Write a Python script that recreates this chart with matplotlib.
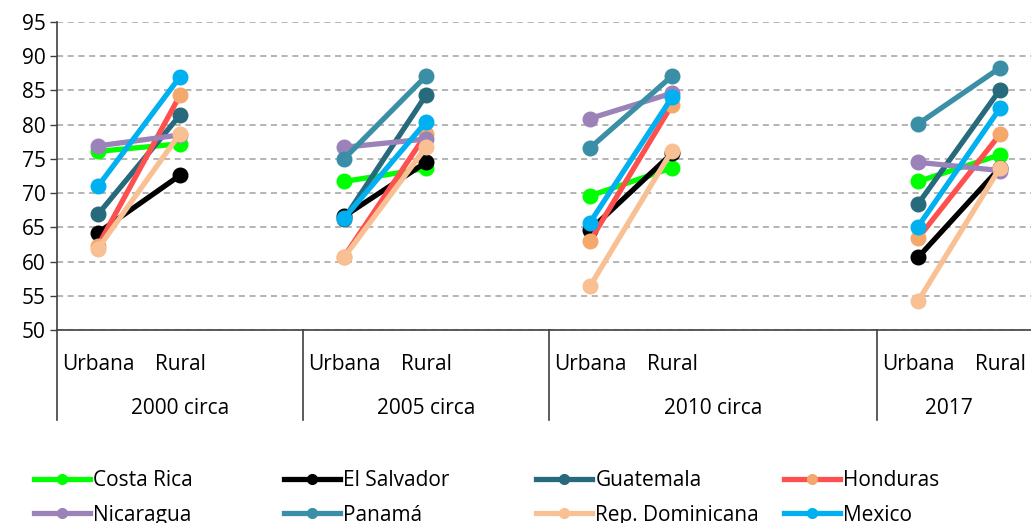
import numpy as np
import matplotlib
matplotlib.use("Agg")
import matplotlib.pyplot as plt
import matplotlib.transforms as mtransforms
from matplotlib.lines import Line2D

plt.rcParams['font.family'] = ['Open Sans', 'DejaVu Sans']

periods = ['2000 circa', '2005 circa', '2010 circa', '2017']
areas = ['Urbana', 'Rural']
# slot where each period starts on the category axis (empty slots between)
period_start = [0, 3, 6, 10]
n_slots = 12

countries = ['Costa Rica', 'El Salvador', 'Guatemala', 'Honduras',
             'Nicaragua', 'Panamá', 'Rep. Dominicana', 'Mexico']

# values per period: (urbana, rural)
costa_rica = [(76.1, 77.2), (71.7, 73.6), (69.6, 73.7), (71.7, 75.6)]
el_salvador = [(64.2, 72.6), (66.6, 74.5), (64.6, 75.8), (60.6, 73.7)]
guatemala = [(66.9, 81.4), (66.2, 84.3), (np.nan, np.nan), (68.4, 85.1)]
honduras = [(62.3, 84.3), (60.7, 78.6), (63.0, 82.9), (63.4, 78.6)]
nicaragua = [(76.9, 78.5), (76.7, 77.9), (80.9, 84.6), (74.5, 73.3)]
panama = [(np.nan, np.nan), (75.0, 87.1), (76.6, 87.1), (80.1, 88.3)]
rep_dominicana = [(61.9, 78.7), (60.6, 76.7), (56.4, 76.2), (54.2, 73.7)]
mexico = [(71.0, 87.0), (66.3, 80.4), (65.7, 84.0), (65.1, 82.4)]

series = [costa_rica, el_salvador, guatemala, honduras,
          nicaragua, panama, rep_dominicana, mexico]
line_colors = ['#00FF00', '#000000', '#276A7C', '#FF5050',
               '#9B83B9', '#3A8EA6', '#F8C093', '#00B0F0']
marker_colors = ['#00FF00', '#000000', '#276A7C', '#F4A86C',
                 '#9B83B9', '#3A8EA6', '#F8C093', '#00B0F0']

fs = 15

fig = plt.figure(figsize=(10.31, 5.23), dpi=100)
ax = fig.add_axes([57 / 1031, 193 / 523, 984 / 1031, 308 / 523])

for vals, lc, mc in zip(series, line_colors, marker_colors):
    for start, (u, r) in zip(period_start, vals):
        if np.isnan(u):
            continue
        ax.plot([start + 0.5, start + 1.5], [u, r], color=lc, lw=3.8,
                marker='o', ms=10.5, mfc=mc, mec=mc, solid_capstyle='round')

ax.set_xlim(0, n_slots)
ax.set_ylim(50, 95)
ax.set_yticks(np.arange(50, 96, 5))
ax.tick_params(axis='y', labelsize=fs, length=5, width=1, color='#404040', pad=3)
ax.yaxis.grid(True, linestyle=(0, (4, 3)), color='#A0A0A0', lw=1.1)
ax.set_axisbelow(True)

xt, xl = [], []
for start in period_start:
    xt += [start + 0.5, start + 1.5]
    xl += areas
ax.set_xticks(xt)
ax.set_xticklabels(xl, fontsize=fs)
ax.tick_params(axis='x', length=0, pad=17)

for s in ['top', 'right']:
    ax.spines[s].set_visible(False)
for s in ['left', 'bottom']:
    ax.spines[s].set_color('#404040')
    ax.spines[s].set_linewidth(1.2)

trans = mtransforms.blended_transform_factory(ax.transData, ax.transAxes)
bottom_y = -90 / 308
for start in period_start:
    ax.plot([start, start], [0, bottom_y], transform=trans, color='#404040',
            lw=1.2, clip_on=False)
ends = period_start[1:] + [n_slots - 0.25]
for start, end, label in zip(period_start, ends, periods):
    ax.text((start + end) / 2, -78 / 308, label, transform=trans,
            ha='center', va='center', fontsize=fs)

# legend: four columns of two entries, fixed spacing
handles = [Line2D([], [], color=lc, lw=3.8, marker='o', ms=7, mfc=mc, mec=mc)
           for lc, mc in zip(line_colors, marker_colors)]
col_x = [34, 284, 536, 784]
for i, x in enumerate(col_x):
    idx = [i, i + 4]
    fig.legend([handles[j] for j in idx], [countries[j] for j in idx],
               loc='upper left', bbox_to_anchor=(x / 1031, 1 - 470 / 523),
               frameon=False, fontsize=fs, handlelength=2.7,
               handletextpad=0.15, labelspacing=0.65, borderpad=0,
               borderaxespad=0)

fig.savefig('out.png', dpi=100)
